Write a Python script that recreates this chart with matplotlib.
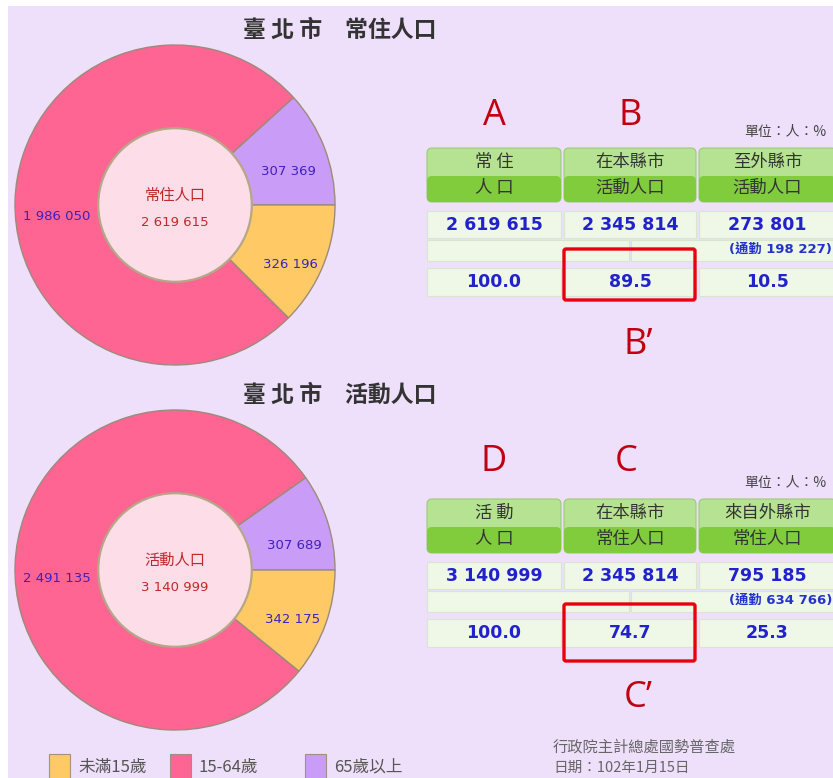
import numpy as np
import matplotlib.pyplot as plt
from matplotlib.patches import Rectangle, FancyBboxPatch, Circle

plt.rcParams['font.family'] = ['Noto Sans CJK TC', 'DejaVu Sans']

# 年齡層（順序：65歲以上、15-64歲、未滿15歲，逆時針由 3 點鐘方向起）
age_labels = ['65歲以上', '15-64歲', '未滿15歲']
age_colors = ['#C99CF7', '#FE6592', '#FFCA66']
legend_labels = ['未滿15歲', '15-64歲', '65歲以上']
legend_colors = ['#FFCA66', '#FE6592', '#C99CF7']

# 常住人口 / 活動人口 (人)
resident_pop = [307369, 1986050, 326196]
active_pop = [307689, 2491135, 342175]
resident_total = 2619615
active_total = 3140999

# 表格
t1_head_top = ['常 住', '在本縣市', '至外縣市']
t1_head_bot = ['人 口', '活動人口', '活動人口']
t1_values = [2619615, 2345814, 273801]
t1_commute = 198227
t1_pct = ['100.0', '89.5', '10.5']

t2_head_top = ['活 動', '在本縣市', '來自外縣市']
t2_head_bot = ['人 口', '常住人口', '常住人口']
t2_values = [3140999, 2345814, 795185]
t2_commute = 634766
t2_pct = ['100.0', '74.7', '25.3']


def fmt(v):
    return f'{v:,}'.replace(',', ' ')


W, H = 833, 778
fig = plt.figure(figsize=(W / 100, H / 100), dpi=100, facecolor='white')
bg = fig.add_axes([0, 0, 1, 1])
bg.set_xlim(0, W)
bg.set_ylim(H, 0)
bg.axis('off')
bg.add_patch(Rectangle((8, 6), W - 8, H - 6, facecolor='#EEE0FB', edgecolor='none', zorder=0))


def draw_donut(cx, cy, r, values, total, center_label, shift):
    ax = fig.add_axes([(cx - r) / W, 1 - (cy + r) / H, 2 * r / W, 2 * r / H])
    wedges, _ = ax.pie(values, colors=age_colors, startangle=0, counterclock=True,
                       wedgeprops=dict(edgecolor='#9C8B7A', linewidth=1.0))
    ax.set_xlim(-1, 1)
    ax.set_ylim(-1, 1)
    ax.set_facecolor('none')
    ax.add_patch(Circle((0, 0), 0.48, facecolor='#FDDDE8', edgecolor='#B5A788', linewidth=1.6, zorder=5))
    for w, v, (dx, dy) in zip(wedges, values, shift):
        ang = np.deg2rad((w.theta1 + w.theta2) / 2)
        ax.text(0.74 * np.cos(ang) + dx, 0.74 * np.sin(ang) + dy, fmt(v),
                ha='center', va='center', fontsize=9.5, color='#4020C0',
                family=['DejaVu Sans'], zorder=6)
    ax.text(0, 0.06, center_label, ha='center', va='center', fontsize=11, color='#C0282A', zorder=6)
    ax.text(0, -0.11, fmt(total), ha='center', va='center', fontsize=9.5, color='#C0282A',
            family=['DejaVu Sans'], zorder=6)
    return ax


draw_donut(175, 205, 160, resident_pop, resident_total, '常住人口',
           [(0.02, -0.06), (0.0, -0.09), (0.04, -0.09)])
draw_donut(175, 570, 160, active_pop, active_total, '活動人口',
           [(0.04, -0.07), (0.0, -0.08), (0.04, -0.06)])

bg.text(340, 30, '臺 北 市　常住人口', ha='center', va='center', fontsize=16.5,
        fontweight='bold', color='#333333')
bg.text(340, 395, '臺 北 市　活動人口', ha='center', va='center', fontsize=16.5,
        fontweight='bold', color='#333333')

cols = [(427, 561), (564, 696), (699, 836)]


def draw_table(y0, head_top, head_bot, values, commute, pct, letters, letter_y, prime, prime_y, red_box):
    # 字母標示
    for (x0, x1), lt in zip(cols[:2], letters):
        bg.text((x0 + x1) / 2 + (-4 if lt == 'C' else 0), letter_y, lt, ha='center', va='center',
                fontsize=26, color='#C00010', family='Open Sans')
    bg.text(826, y0 - 16, '單位：人：%', ha='right', va='center', fontsize=10, color='#444444')
    for (x0, x1), ht, hb in zip(cols, head_top, head_bot):
        bg.add_patch(FancyBboxPatch((x0, y0), x1 - x0, 54, boxstyle='round,pad=0,rounding_size=5',
                                    facecolor='#B6E391', edgecolor='#9CCB78', linewidth=0.8, zorder=2))
        bg.add_patch(FancyBboxPatch((x0, y0 + 28), x1 - x0, 26, boxstyle='round,pad=0,rounding_size=5',
                                    facecolor='#80CC3C', edgecolor='none', zorder=3))
        bg.text((x0 + x1) / 2, y0 + 14, ht, ha='center', va='center', fontsize=12.5, color='#333333', zorder=4)
        bg.text((x0 + x1) / 2, y0 + 40, hb, ha='center', va='center', fontsize=12.5, color='#333333', zorder=4)
    # 數值列
    r1, r2, r3 = y0 + 63, y0 + 92, y0 + 120
    for (x0, x1), v, p in zip(cols, values, pct):
        for top, h in ((r1, 27), (r3, 28)):
            bg.add_patch(Rectangle((x0, top), x1 - x0, h, facecolor='#EFF7E6', edgecolor='#D9E6CF',
                                   linewidth=0.8, zorder=2))
        bg.text((x0 + x1) / 2, r1 + 14, fmt(v), ha='center', va='center', fontsize=12.5,
                fontweight='bold', color='#2222CC', family=['DejaVu Sans'], zorder=4)
        bg.text((x0 + x1) / 2, r3 + 14, p, ha='center', va='center', fontsize=12.5,
                fontweight='bold', color='#2222CC', family=['DejaVu Sans'], zorder=4)
    for x0, x1 in ((427, 629), (631, 836)):
        bg.add_patch(Rectangle((x0, r2), x1 - x0, 21, facecolor='#EFF7E6', edgecolor='#D9E6CF',
                               linewidth=0.8, zorder=2))
    bg.text(832, r2 + 9, f'(通勤 {fmt(commute)})', ha='right', va='center', fontsize=9.5,
            fontweight='bold', color='#2233CC', family=['DejaVu Sans', 'Noto Sans CJK TC'], zorder=4)
    bx0, by0, bx1, by1 = red_box
    bg.add_patch(FancyBboxPatch((bx0, by0), bx1 - bx0, by1 - by0, boxstyle='round,pad=0,rounding_size=2',
                                facecolor='none', edgecolor='#E8000E', linewidth=2.4, zorder=6))
    bg.text(638, prime_y, prime, ha='center', va='center', fontsize=26, color='#C00010', family='Open Sans')


draw_table(148, t1_head_top, t1_head_bot, t1_values, t1_commute, t1_pct,
           ['A', 'B'], 116, 'B\u2019', 345, (564, 249, 695, 300))
draw_table(499, t2_head_top, t2_head_bot, t2_values, t2_commute, t2_pct,
           ['D', 'C'], 462, 'C\u2019', 698, (564, 604, 695, 661))

# 圖例
for x, lab, col in zip([49, 170, 305], legend_labels, legend_colors):
    bg.add_patch(Rectangle((x, 754), 21, 26, facecolor=col, edgecolor='#A09080', linewidth=0.8, zorder=2))
    bg.text(x + 29, 767, lab, ha='left', va='center', fontsize=12, color='#555555')

bg.text(553, 747, '行政院主計總處國勢普查處', ha='left', va='center', fontsize=11, color='#666666')
bg.text(553, 768, '日期：102年1月15日', ha='left', va='center', fontsize=10.5, color='#666666')

fig.savefig('out.png', dpi=100, facecolor=fig.get_facecolor())
